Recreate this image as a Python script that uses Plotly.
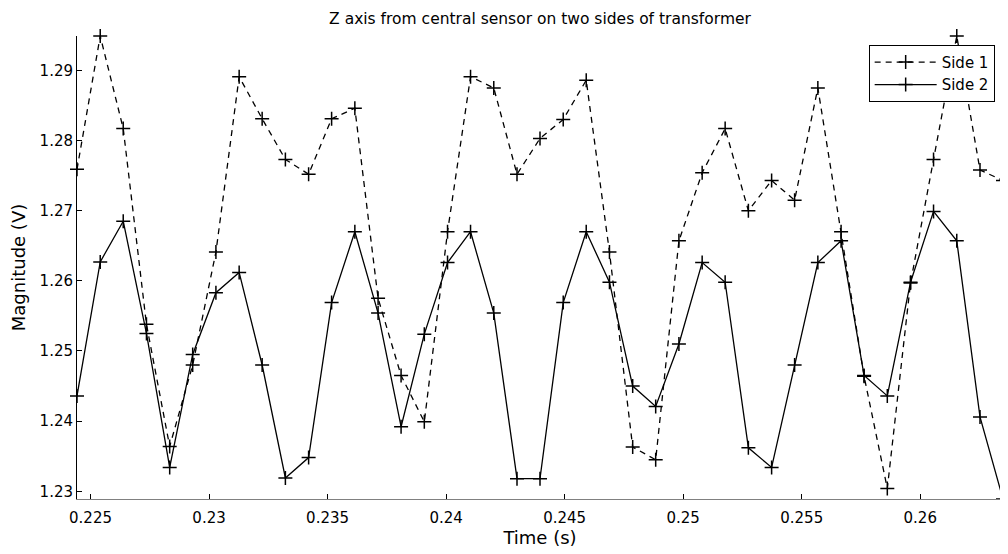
import plotly.graph_objects as go

# sample times (s), roughly 1024 Hz sampling
time_s = [0.22443, 0.22541, 0.22638, 0.22736, 0.22834, 0.22931, 0.23029, 0.23127,
          0.23224, 0.23322, 0.23420, 0.23517, 0.23615, 0.23713, 0.23810, 0.23908,
          0.24006, 0.24103, 0.24201, 0.24299, 0.24396, 0.24494, 0.24591, 0.24689,
          0.24787, 0.24884, 0.24982, 0.25080, 0.25177, 0.25275, 0.25373, 0.25470,
          0.25568, 0.25666, 0.25763, 0.25861, 0.25959, 0.26056, 0.26154, 0.26252,
          0.26349]

side1 = [1.2759, 1.2949, 1.2817, 1.2538, 1.2364, 1.2480, 1.2641, 1.2891, 1.2831, 1.2773,
         1.2752, 1.2831, 1.2846, 1.2575, 1.2465, 1.2399, 1.2670, 1.2891, 1.2875, 1.2752,
         1.2803, 1.2830, 1.2886, 1.2641, 1.2363, 1.2345, 1.2657, 1.2754, 1.2817, 1.2700,
         1.2743, 1.2715, 1.2875, 1.2670, 1.2464, 1.2304, 1.2597, 1.2773, 1.2949, 1.2758,
         1.2743]

side2 = [1.2436, 1.2627, 1.2685, 1.2525, 1.2334, 1.2495, 1.2583, 1.2612, 1.2480, 1.2319,
         1.2348, 1.2569, 1.2670, 1.2554, 1.2392, 1.2524, 1.2626, 1.2670, 1.2554, 1.2318,
         1.2318, 1.2569, 1.2670, 1.2598, 1.2450, 1.2421, 1.2510, 1.2626, 1.2598, 1.2362,
         1.2334, 1.2480, 1.2626, 1.2657, 1.2465, 1.2436, 1.2598, 1.2699, 1.2657, 1.2406,
         1.2289]

x_tick_vals = [0.225, 0.23, 0.235, 0.24, 0.245, 0.25, 0.255, 0.26]
x_tick_text = ["0.225", "0.23", "0.235", "0.24", "0.245", "0.25", "0.255", "0.26"]
y_tick_vals = [1.23, 1.24, 1.25, 1.26, 1.27, 1.28, 1.29]
y_tick_text = ["1.23", "1.24", "1.25", "1.26", "1.27", "1.28", "1.29"]

font_family = "DejaVu Sans, Liberation Sans, Arial, sans-serif"
marker_style = dict(symbol="cross-thin", size=10, line=dict(width=1.5, color="black"), color="black")

fig = go.Figure()
fig.add_trace(go.Scatter(
    x=time_s, y=side1, name="Side 1", mode="lines+markers",
    line=dict(color="black", width=1.3, dash="6px,5px"),
    marker=marker_style, cliponaxis=False,
))
fig.add_trace(go.Scatter(
    x=time_s, y=side2, name="Side 2", mode="lines+markers",
    line=dict(color="black", width=1.3),
    marker=marker_style, cliponaxis=False,
))

all_y = side1 + side2
# page body adds an 8px offset, margins below account for it
fig.update_layout(
    width=1000, height=546,
    margin=dict(l=69, r=5, t=28, b=55),
    paper_bgcolor="white", plot_bgcolor="white",
    font=dict(family=font_family, size=15, color="black"),
    title=dict(text="Z axis from central sensor on two sides of transformer",
               x=0.5, xref="paper", y=0.99, yanchor="top",
               font=dict(size=15.5, color="black")),
    showlegend=True,
    legend=dict(x=0.991, y=0.981, xanchor="right", yanchor="top",
                bgcolor="white", bordercolor="black", borderwidth=1,
                font=dict(size=15), itemwidth=62, tracegroupgap=0),
    xaxis=dict(
        range=[min(time_s), max(time_s)],
        tickvals=x_tick_vals, ticktext=x_tick_text,
        ticks="inside", ticklen=5, tickcolor="black",
        ticklabelstandoff=5,
        showline=True, linecolor="#808080", linewidth=1,
        showgrid=False, zeroline=False,
        title=dict(text="Time (s)", standoff=2),
    ),
    yaxis=dict(
        range=[min(all_y), max(all_y)],
        tickvals=y_tick_vals, ticktext=y_tick_text,
        ticks="inside", ticklen=5, tickcolor="black",
        showline=True, linecolor="black", linewidth=1,
        showgrid=False, zeroline=False,
        title=dict(text="Magnitude (V)", standoff=15),
    ),
)

fig.write_html("out.html")
